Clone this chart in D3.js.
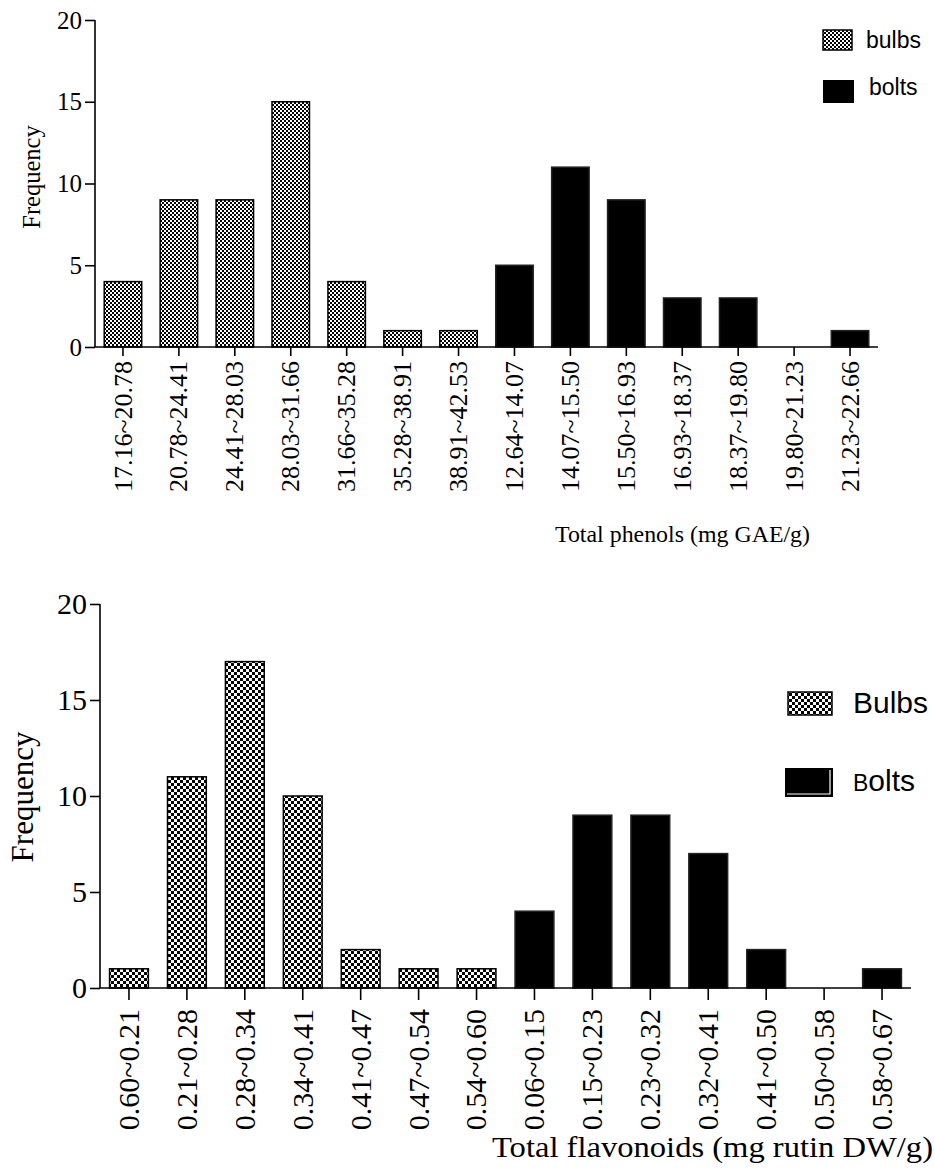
<!DOCTYPE html>
<html>
<head>
<meta charset="utf-8">
<script src="https://cdn.jsdelivr.net/npm/d3@7"></script>
<style>
  html, body { margin: 0; padding: 0; background: #fff; }
  svg { display: block; }
</style>
</head>
<body>
<svg id="chart" width="935" height="1172"></svg>
<script>
// Top panel: total phenols
const phenolBins = [
  "17.16~20.78", "20.78~24.41", "24.41~28.03", "28.03~31.66", "31.66~35.28",
  "35.28~38.91", "38.91~42.53", "12.64~14.07", "14.07~15.50", "15.50~16.93",
  "16.93~18.37", "18.37~19.80", "19.80~21.23", "21.23~22.66"
];
const phenolCounts = [4, 9, 9, 15, 4, 1, 1, 5, 11, 9, 3, 3, 0, 1];
const phenolGroup = ["bulbs", "bulbs", "bulbs", "bulbs", "bulbs", "bulbs", "bulbs",
  "bolts", "bolts", "bolts", "bolts", "bolts", "bolts", "bolts"];

// Bottom panel: total flavonoids
const flavBins = [
  "0.60~0.21", "0.21~0.28", "0.28~0.34", "0.34~0.41", "0.41~0.47",
  "0.47~0.54", "0.54~0.60", "0.06~0.15", "0.15~0.23", "0.23~0.32",
  "0.32~0.41", "0.41~0.50", "0.50~0.58", "0.58~0.67"
];
const flavCounts = [1, 11, 17, 10, 2, 1, 1, 4, 9, 9, 7, 2, 0, 1];
const flavGroup = phenolGroup;

const yTicks = [0, 5, 10, 15, 20];

const SERIF = "'Liberation Serif', 'Times New Roman', serif";
const SANS = "'Liberation Sans', Arial, sans-serif";

const svg = d3.select("#chart");
const defs = svg.append("defs");

// checkerboard fills for the bulbs bars
function checker(id, cell) {
  const p = defs.append("pattern")
    .attr("id", id)
    .attr("patternUnits", "userSpaceOnUse")
    .attr("width", cell * 2).attr("height", cell * 2);
  p.append("rect").attr("width", cell * 2).attr("height", cell * 2).attr("fill", "#fff");
  p.append("rect").attr("width", cell).attr("height", cell).attr("fill", "#000");
  p.append("rect").attr("x", cell).attr("y", cell).attr("width", cell).attr("height", cell).attr("fill", "#000");
}
checker("chk-top", 2);
checker("chk-bot", 3);

function drawPanel(o) {
  const x = d3.scaleBand()
    .domain(d3.range(o.bins.length))
    .range(o.xRange)
    .paddingInner(0.33)
    .paddingOuter(0.165);
  const y = d3.scaleLinear().domain([0, 20]).range(o.yRange);

  const g = svg.append("g");

  g.append("g")
    .selectAll("rect")
    .data(o.counts.map((v, i) => ({ v, i, grp: o.group[i] })))
    .join("rect")
    .attr("x", d => x(d.i))
    .attr("y", d => y(d.v))
    .attr("width", x.bandwidth())
    .attr("height", d => y(0) - y(d.v))
    .attr("fill", d => d.grp === "bulbs" ? `url(#${o.pattern})` : "#000")
    .attr("stroke", d => d.grp === "bulbs" ? "#000" : "#222")
    .attr("stroke-width", 1.5);

  // y axis
  const ya = g.append("g")
    .attr("transform", `translate(${o.xRange[0]},0)`)
    .call(d3.axisLeft(y).tickValues(yTicks).tickSize(10).tickPadding(3));
  ya.select(".domain").attr("d", `M0,${o.yRange[1]}V${o.yRange[0]}`);
  ya.selectAll("text").attr("font-family", SERIF).attr("font-size", o.tickFont).attr("fill", "#000");

  // x axis
  const xa = g.append("g")
    .attr("transform", `translate(0,${o.yRange[0]})`)
    .call(d3.axisBottom(x).tickFormat(i => o.bins[i]).tickSize(o.xTick).tickSizeOuter(0));
  xa.select(".domain").attr("d", `M${o.xRange[0]},0H${o.xRange[1]}`);
  xa.selectAll("text")
    .attr("font-family", SERIF)
    .attr("font-size", o.xFont)
    .attr("fill", "#000")
    .attr("text-anchor", "end")
    .attr("transform", "rotate(-90)")
    .attr("x", -(o.xTick + o.xGap))
    .attr("y", 0)
    .attr("dy", "0.33em");

  g.selectAll(".domain, .tick line").attr("stroke", "#000").attr("stroke-width", 1.6);

  g.append("text")
    .attr("transform", `translate(${o.freqX},${o.freqY}) rotate(-90)`)
    .attr("text-anchor", "middle")
    .attr("font-family", SERIF)
    .attr("font-size", o.freqFont)
    .text("Frequency");

  g.append("text")
    .attr("x", o.titleX).attr("y", o.titleY)
    .attr("font-family", SERIF)
    .attr("font-size", o.titleFont)
    .attr("textLength", o.titleLen)
    .attr("lengthAdjust", "spacingAndGlyphs")
    .text(o.title);
}

drawPanel({
  bins: phenolBins, counts: phenolCounts, group: phenolGroup,
  xRange: [95, 878], yRange: [347, 20], pattern: "chk-top",
  tickFont: 25, xFont: 26, xTick: 9, xGap: 5,
  freqX: 40, freqY: 177, freqFont: 24.5,
  title: "Total phenols (mg GAE/g)", titleX: 555, titleY: 542, titleFont: 24, titleLen: 255
});

drawPanel({
  bins: flavBins, counts: flavCounts, group: flavGroup,
  xRange: [100, 911], yRange: [988, 604], pattern: "chk-bot",
  tickFont: 30, xFont: 30, xTick: 12, xGap: 9,
  freqX: 33, freqY: 797, freqFont: 31,
  title: "Total flavonoids (mg rutin DW/g)", titleX: 492, titleY: 1157, titleFont: 30, titleLen: 441
});

// legends
const legTop = svg.append("g");
legTop.append("rect").attr("x", 823).attr("y", 30).attr("width", 29).attr("height", 20)
  .attr("fill", "url(#chk-top)").attr("stroke", "#000").attr("stroke-width", 1.5);
legTop.append("text").attr("x", 866).attr("y", 48)
  .attr("font-family", SANS).attr("font-size", 23).text("bulbs");
legTop.append("rect").attr("x", 823).attr("y", 80).attr("width", 31).attr("height", 23)
  .attr("fill", "#000");
legTop.append("text").attr("x", 869).attr("y", 95)
  .attr("font-family", SANS).attr("font-size", 23).text("bolts");

const legBot = svg.append("g");
legBot.append("rect").attr("x", 788).attr("y", 692).attr("width", 44).attr("height", 23)
  .attr("fill", "url(#chk-bot)").attr("stroke", "#000").attr("stroke-width", 1.5);
legBot.append("text").attr("x", 853).attr("y", 713)
  .attr("font-family", SANS).attr("font-size", 30).text("Bulbs");
legBot.append("rect").attr("x", 785).attr("y", 768).attr("width", 48).attr("height", 29)
  .attr("fill", "#000");
legBot.append("path").attr("d", "M787,794H830V770")
  .attr("fill", "none").attr("stroke", "#fff").attr("stroke-width", 1.2);
const bolts = legBot.append("text").attr("x", 853).attr("y", 791)
  .attr("font-family", SANS).attr("font-size", 30);
bolts.append("tspan").attr("font-size", 23).text("B");
bolts.append("tspan").text("olts");
</script>
</body>
</html>
